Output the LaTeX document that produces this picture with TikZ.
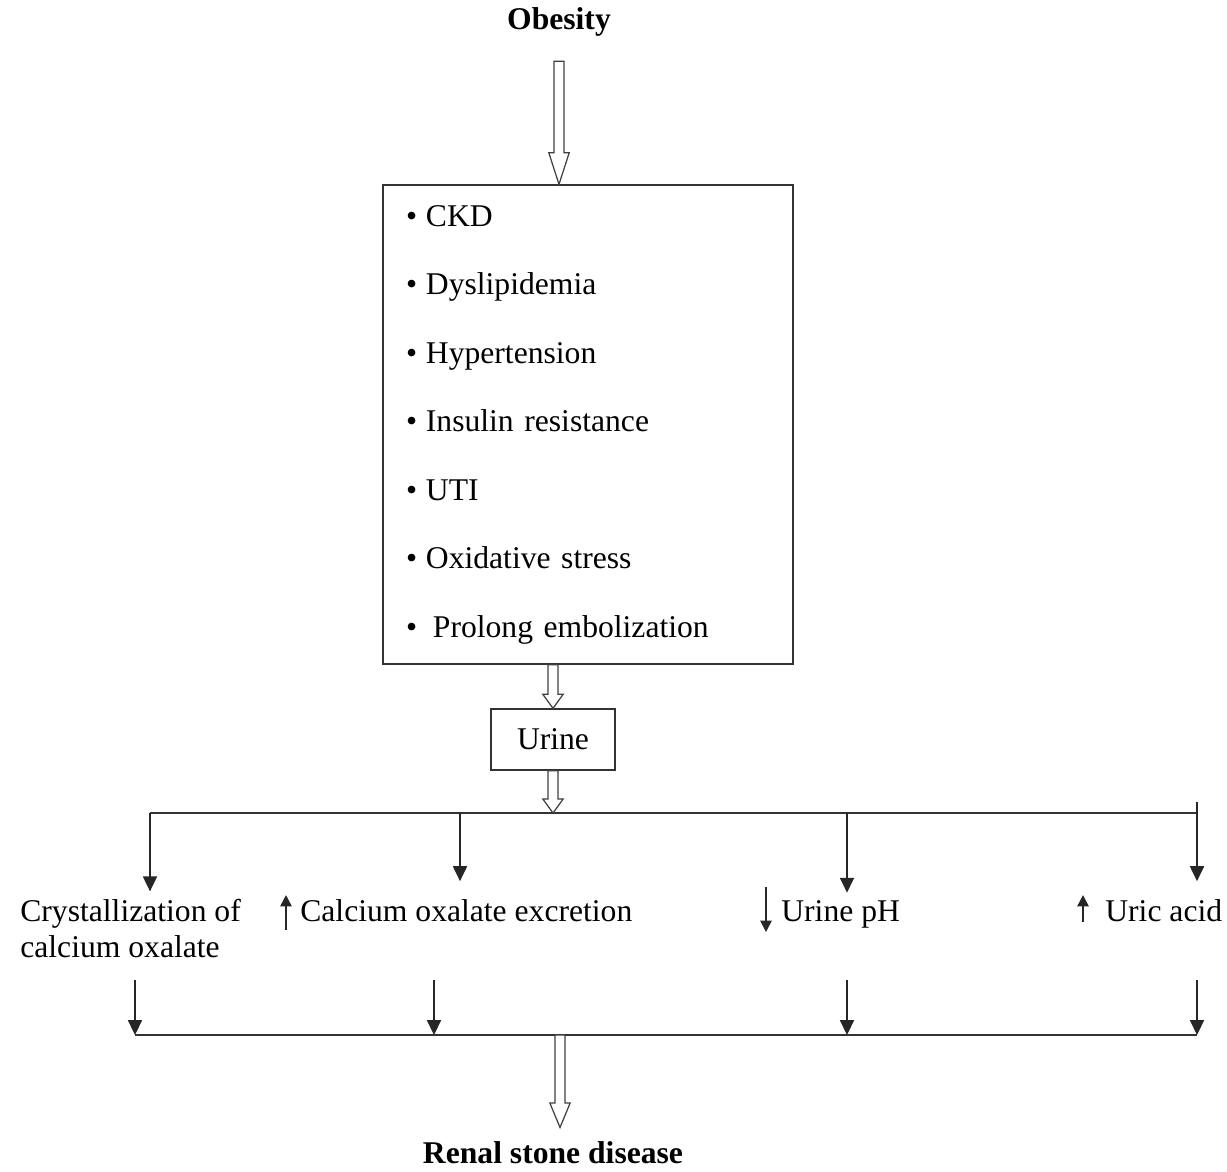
\documentclass[tikz,border=0pt]{standalone}
\usepackage{fontspec}
\setmainfont{Liberation Serif}
\usetikzlibrary{arrows.meta,calc,positioning}

% hollow block arrow, drawn straight down from #2 to the height of #3
\newcommand{\hollowarrow}[3][14pt]{%
  \draw[hollow] let \p1=(#2), \p2=(#3) in
    (\x1-2.8pt,\y1) -- (\x1-2.8pt,\y2+#1) -- (\x1-5.8pt,\y2+#1) -- (\x1,\y2)
    -- (\x1+5.8pt,\y2+#1) -- (\x1+2.8pt,\y2+#1) -- (\x1+2.8pt,\y1) -- cycle;}
\newcommand{\bul}{\textbullet\hspace{0.28em}}

\begin{document}
\begin{tikzpicture}[
    x=0.02cm, y=-0.02cm,
    box/.style={draw=black!80, line width=0.8pt},
    lbl/.style={font=\fontsize{18}{20.5}\selectfont, inner sep=0pt, align=left},
    heading/.style={font=\fontsize{18}{22}\selectfont\bfseries, inner sep=0pt},
    arr/.style={-{Triangle[length=8.5pt,width=8pt]}, line width=0.9pt, black!85},
    updown/.style={-{Triangle[length=6.5pt,width=6.5pt]}, line width=0.9pt, black!85},
    hollow/.style={draw=black!75, line width=0.7pt, fill=white, line join=miter},
    bus/.style={line width=1pt, black!80},
]
\useasboundingbox (0,0) rectangle (1227,1171);

% Top
\node[heading] (obesity) at (559,22) {Obesity};

\node[box, minimum width=8.2cm, minimum height=9.58cm, inner xsep=0.46cm,
      text width=7.28cm, align=left, font=\fontsize{18}{39}\selectfont] (factors) at (588,424.5)
  {\bul CKD\\
   \bul Dyslipidemia\\
   \bul Hypertension\\
   \bul Insulin resistance\\
   \bul UTI\\
   \bul Oxidative stress\\
   \textbullet\hspace{0.5em}Prolong embolization};

\node[box, minimum width=2.48cm, minimum height=1.22cm, font=\fontsize{18}{22}\selectfont] (urine) at (553,739.5) {Urine};

% Upper bus
\coordinate (t1) at (150,813);
\coordinate (t2) at (460,813);
\coordinate (t3) at (847,813);
\coordinate (t4) at (1197,813);
\coordinate (t4up) at (1197,802);
\draw[bus] (t1) -- (t4);

\hollowarrow[18pt]{[yshift=-14pt]obesity.south}{factors.north}
\hollowarrow[8pt]{urine.north |- factors.south}{urine.north}
\hollowarrow[8pt]{urine.south}{t1}

% Effects
\node[lbl, anchor=base west] (cryst) at (20,957) {Crystallization of\\calcium oxalate};
\node[lbl, anchor=base west] (caox) at (300,921) {Calcium oxalate excretion};
\node[lbl, anchor=base west] (ph) at (781,921) {Urine pH};
\node[lbl, anchor=base west] (uric) at (1105,921) {Uric acid};

\draw[arr] (t1) -- ([yshift=4pt]t1 |- cryst.north);
\draw[arr] (t2) -- ([yshift=10pt]t2 |- caox.north);
\draw[arr] (t3) -- ([yshift=4pt]t3 |- ph.north);
\draw[arr] (t4up) -- ([yshift=10pt]t4up |- uric.north);

\draw[updown] ($(caox.base west)+(-14,9)$) -- ($(caox.base west)+(-14,-26)$);
\draw[updown] ($(ph.base west)+(-15,-34)$) -- ($(ph.base west)+(-15,11)$);
\draw[updown] ($(uric.base west)+(-22,1)$) -- ($(uric.base west)+(-22,-26)$);

% Lower bus
\foreach \x [count=\i] in {135,434,847,1197} {
  \coordinate (u\i) at (\x,980);
  \coordinate (d\i) at (\x,1035);
  \draw[arr] (u\i) -- (d\i);
}
\draw[bus] (d1) -- (d4);
\coordinate (join) at (560,1035);

\node[heading] (renal) at (553,1153) {Renal stone disease};
\hollowarrow[14pt]{join}{[yshift=8pt]renal.north}

\end{tikzpicture}
\end{document}
